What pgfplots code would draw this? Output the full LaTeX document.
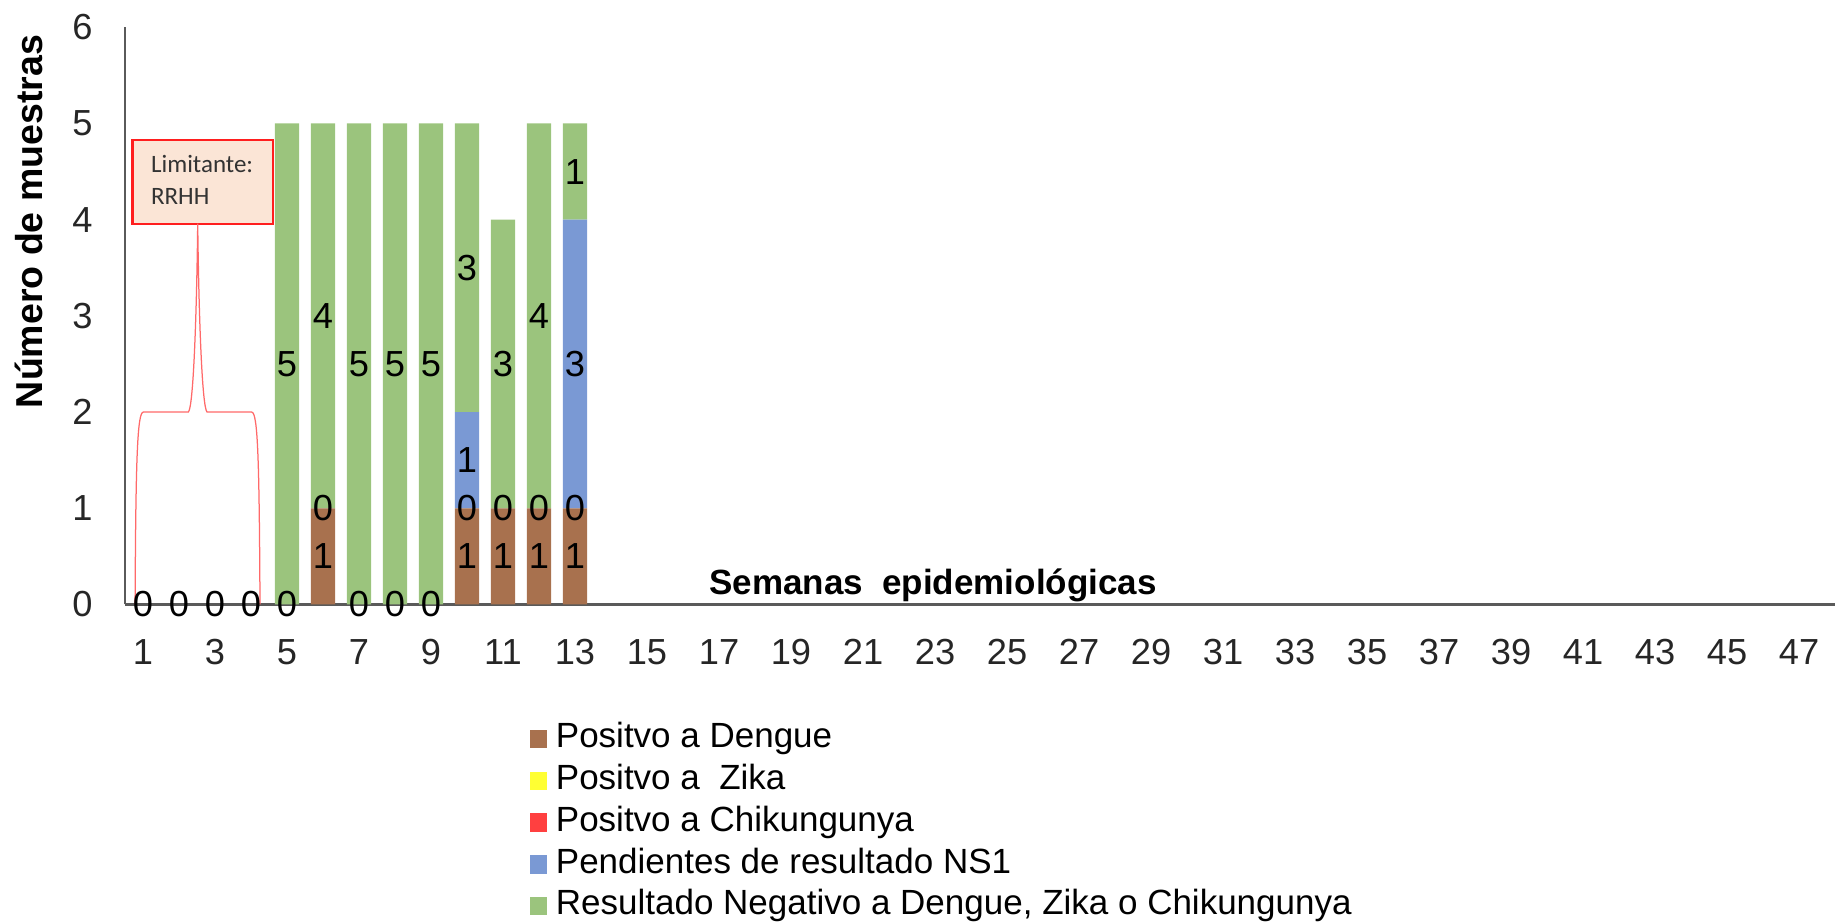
\documentclass[border=0pt]{standalone}
\usepackage{fontspec}
\setmainfont{Liberation Sans}
\newfontfamily\carlito{Carlito}
\usepackage{pgfplots}
\usepackage{pgfplotstable}
\pgfplotsset{compat=1.18}

\definecolor{cden}{RGB}{168,113,78}
\definecolor{czik}{RGB}{255,255,51}
\definecolor{cchi}{RGB}{255,64,64}
\definecolor{cns}{RGB}{122,153,212}
\definecolor{cneg}{RGB}{155,196,125}
\definecolor{boxfill}{RGB}{251,229,214}
\definecolor{boxline}{RGB}{255,30,30}
\definecolor{braceline}{RGB}{255,105,105}
\definecolor{axisgray}{RGB}{90,90,90}

\pgfplotstableread{
week den zik chi ns1 neg
1 0 0 0 0 0
2 0 0 0 0 0
3 0 0 0 0 0
4 0 0 0 0 0
5 0 0 0 0 5
6 1 0 0 0 4
7 0 0 0 0 5
8 0 0 0 0 5
9 0 0 0 0 5
10 1 0 0 1 3
11 1 0 0 0 3
12 1 0 0 0 4
13 1 0 0 3 1
}\datatable

\pgfplotsset{
  sqleg/.style={legend image code/.code={\fill[##1,draw=none] (0pt,-3.7pt) rectangle (6.8pt,3.7pt);}},
  frame/.style={
    at={(0,0)}, anchor=south west,
    scale only axis,
    width=684pt, height=230.9pt,
    xmin=0.5, xmax=48, ymin=0, ymax=6,
    clip=false,
  }
}

\begin{document}
\begin{tikzpicture}
\begin{axis}[
  frame,
  ybar stacked,
  bar width=9.7pt,
  every axis plot post/.append style={sqleg},
  axis lines=left,
  axis line style={-, draw=axisgray, line width=1pt},
  major tick length=0pt,
  xtick={1,3,...,47},
  ytick={0,1,...,6},
  /pgf/number format/assume math mode=true,
  every tick label/.append style={font=\fontsize{14.5}{17}\selectfont, text=black!85, inner sep=0pt},
  yticklabel style={anchor=east, xshift=-12.8pt},
  xticklabel style={anchor=north, yshift=-13.8pt},
  xlabel={\textbf{Semanas\ \ epidemiológicas}},
  xlabel style={at={(axis description cs:0.4725,0.0173)}, anchor=base, font=\fontsize{14}{17}\selectfont, inner sep=0pt},
  ylabel={\textbf{Número de muestras}},
  ylabel style={at={(axis description cs:-0.0561,0.6635)}, anchor=center, font=\fontsize{15}{18}\selectfont, inner sep=0pt},
  legend style={at={(axis description cs:0.2368,-0.2049)}, anchor=north west, draw=none, fill=none, inner sep=0pt, outer sep=0pt, row sep=3.7pt, column sep=3.6pt, font=\fontsize{14}{17}\selectfont, nodes={inner sep=0pt, text height=10pt, text depth=3pt}},
  legend cell align=left,
]
\addplot[fill=cden, draw=none] table[x=week, y=den]{\datatable};
\addlegendentry{Positvo a Dengue}
\addplot[fill=czik, draw=none] table[x=week, y=zik]{\datatable};
\addlegendentry{Positvo a\ \ Zika}
\addplot[fill=cchi, draw=none] table[x=week, y=chi]{\datatable};
\addlegendentry{Positvo a Chikungunya}
\addplot[fill=cns, draw=none] table[x=week, y=ns1]{\datatable};
\addlegendentry{Pendientes de resultado NS1}
\addplot[fill=cneg, draw=none] table[x=week, y=neg]{\datatable};
\addlegendentry{Resultado Negativo a Dengue, Zika o Chikungunya}

% callout
\draw[braceline, line width=0.5pt]
  (axis cs:0.78,0) .. controls (axis cs:0.80,1.5) and (axis cs:0.84,2) .. (axis cs:1.01,2)
  -- (axis cs:2.26,2) .. controls (axis cs:2.40,2.05) and (axis cs:2.49,3.0) .. (axis cs:2.52,3.96)
  .. controls (axis cs:2.55,3.0) and (axis cs:2.64,2.05) .. (axis cs:2.78,2)
  -- (axis cs:4.02,2) .. controls (axis cs:4.19,2) and (axis cs:4.23,1.5) .. (axis cs:4.25,0);
\filldraw[fill=boxfill, draw=boxline, line width=0.9pt] (axis cs:0.71,3.955) rectangle (axis cs:4.62,4.83);
\end{axis}

% data labels, centred in each segment (zero labels of every series fall on the
% same spot as the Zika label, so they are drawn once, through the Zika series)
\begin{axis}[
  frame,
  hide axis,
  unbounded coords=discard,
  /pgf/number format/assume math mode=true,
  point meta=explicit,
  nodes near coords={\pgfmathprintnumber{\pgfplotspointmeta}},
  every node near coord/.append style={font=\fontsize{14.5}{17}\selectfont, text=black, anchor=center, inner sep=0pt},
]
\addplot[draw=none, mark=none] table[x=week, y expr={\thisrow{den}==0 ? nan : \thisrow{den}/2}, meta=den]{\datatable};
\addplot[draw=none, mark=none] table[x=week, y expr={\thisrow{den}+\thisrow{zik}/2}, meta=zik]{\datatable};
\addplot[draw=none, mark=none] table[x=week, y expr={\thisrow{chi}==0 ? nan : \thisrow{den}+\thisrow{zik}+\thisrow{chi}/2}, meta=chi]{\datatable};
\addplot[draw=none, mark=none] table[x=week, y expr={\thisrow{ns1}==0 ? nan : \thisrow{den}+\thisrow{zik}+\thisrow{chi}+\thisrow{ns1}/2}, meta=ns1]{\datatable};
\addplot[draw=none, mark=none] table[x=week, y expr={\thisrow{neg}==0 ? nan : \thisrow{den}+\thisrow{zik}+\thisrow{chi}+\thisrow{ns1}+\thisrow{neg}/2}, meta=neg]{\datatable};
\node[anchor=base west, inner sep=0pt, font=\carlito\fontsize{10}{12}\selectfont, text=black!80] at (axis cs:1.21,4.49) {Limitante:};
\node[anchor=base west, inner sep=0pt, font=\carlito\fontsize{10}{12}\selectfont, text=black!80] at (axis cs:1.21,4.157) {RRHH};
\end{axis}
\pgfresetboundingbox
\path[use as bounding box] (-50pt,-127.4pt) rectangle (684pt,241.8pt);
\end{tikzpicture}
\end{document}
